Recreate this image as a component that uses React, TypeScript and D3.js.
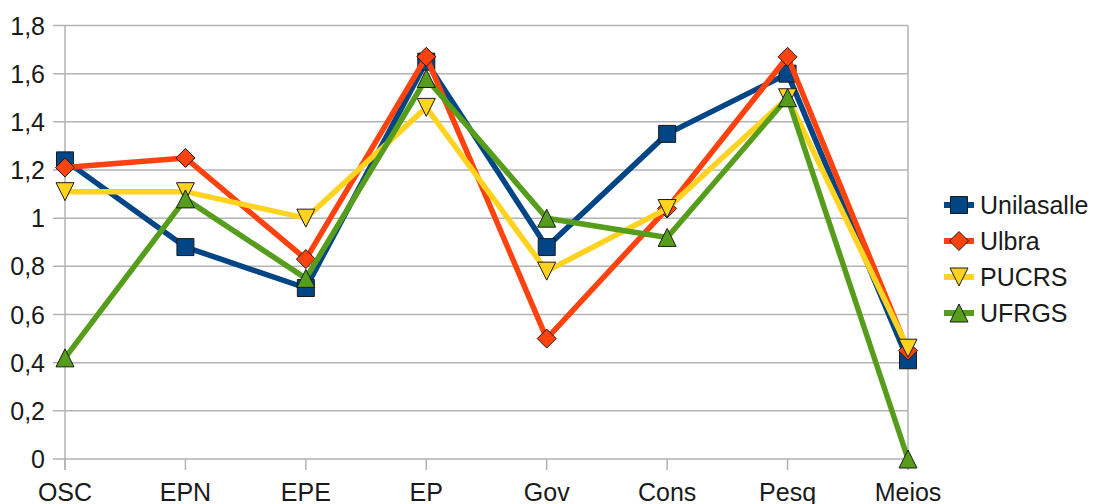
import React from "react";
import * as d3 from "d3";

const categories = ["OSC", "EPN", "EPE", "EP", "Gov", "Cons", "Pesq", "Meios"];
const unilasalle = [1.24, 0.88, 0.71, 1.65, 0.88, 1.35, 1.6, 0.41];
const ulbra = [1.21, 1.25, 0.83, 1.67, 0.5, 1.04, 1.67, 0.45];
const pucrs = [1.11, 1.11, 1.0, 1.46, 0.78, 1.04, 1.5, 0.46];
const ufrgs = [0.42, 1.08, 0.75, 1.58, 1.0, 0.92, 1.5, 0.0];
const yTicks = [0, 0.2, 0.4, 0.6, 0.8, 1, 1.2, 1.4, 1.6, 1.8];

const series = [
  { name: "Unilasalle", values: unilasalle, color: "#004586", marker: "square" },
  { name: "Ulbra", values: ulbra, color: "#ff420e", marker: "diamond" },
  { name: "PUCRS", values: pucrs, color: "#ffd320", marker: "down" },
  { name: "UFRGS", values: ufrgs, color: "#579d1c", marker: "up" },
];

const W = 1093, H = 504;
const left = 65, right = 908, top = 25.5, bottom = 459;
const font = "'Liberation Sans', Arial, sans-serif";

function Marker({ type, x, y, color }: { type: string; x: number; y: number; color: string }) {
  const s = 9;
  let d = "";
  if (type === "square") d = `M${x - 8.5},${y - 8.5}h17v17h-17Z`;
  else if (type === "diamond") d = `M${x},${y - s - 0.5}L${x + s + 0.5},${y}L${x},${y + s + 0.5}L${x - s - 0.5},${y}Z`;
  else if (type === "down") d = `M${x - s},${y - s}L${x + s},${y - s}L${x},${y + s}Z`;
  else d = `M${x},${y - s}L${x + s},${y + s}L${x - s},${y + s}Z`;
  return <path d={d} fill={color} stroke="#1a1a1a" strokeWidth={1} />;
}

export default function App() {
  const x = d3.scalePoint<string>().domain(categories).range([left, right]);
  const y = d3.scaleLinear().domain([0, 1.8]).range([bottom, top]);
  const line = d3
    .line<number>()
    .x((_, i) => x(categories[i]) as number)
    .y((v) => y(v));
  const fmt = (v: number) => String(+v.toFixed(1)).replace(".", ",");

  return (
    <svg width={W} height={H} style={{ position: "absolute", left: 0, top: 0, background: "#fff" }}>
      <rect width={W} height={H} fill="#fff" />
      {yTicks.map((t) => (
        <g key={t}>
          <line x1={left - 12} x2={right} y1={y(t)} y2={y(t)} stroke="#b3b3b3" strokeWidth={1.5} />
          <text x={45} y={y(t) + 9} textAnchor="end" fontFamily={font} fontSize={25} fill="#1a1a1a">
            {fmt(t)}
          </text>
        </g>
      ))}
      <line x1={left} x2={left} y1={top} y2={bottom + 11} stroke="#b3b3b3" strokeWidth={1.5} />
      <line x1={right} x2={right} y1={top} y2={bottom + 11} stroke="#b3b3b3" strokeWidth={1.5} />
      {categories.map((c) => (
        <g key={c}>
          <line x1={x(c)} x2={x(c)} y1={bottom} y2={bottom + 11} stroke="#b3b3b3" strokeWidth={1.5} />
          <text x={x(c)} y={501} textAnchor="middle" fontFamily={font} fontSize={25} fill="#1a1a1a">
            {c}
          </text>
        </g>
      ))}
      {series.map((s) => (
        <g key={s.name}>
          <path d={line(s.values) as string} fill="none" stroke={s.color} strokeWidth={5.5} strokeLinejoin="round" />
          {s.values.map((v, i) => (
            <Marker key={i} type={s.marker} x={x(categories[i]) as number} y={y(v)} color={s.color} />
          ))}
        </g>
      ))}
      {series.map((s, i) => {
        const ly = 205 + i * 36;
        return (
          <g key={s.name}>
            <line x1={944} x2={974} y1={ly} y2={ly} stroke={s.color} strokeWidth={6} />
            <Marker type={s.marker} x={959} y={ly} color={s.color} />
            <text x={980} y={ly + 9} fontFamily={font} fontSize={25} fill="#1a1a1a">
              {s.name}
            </text>
          </g>
        );
      })}
    </svg>
  );
}
